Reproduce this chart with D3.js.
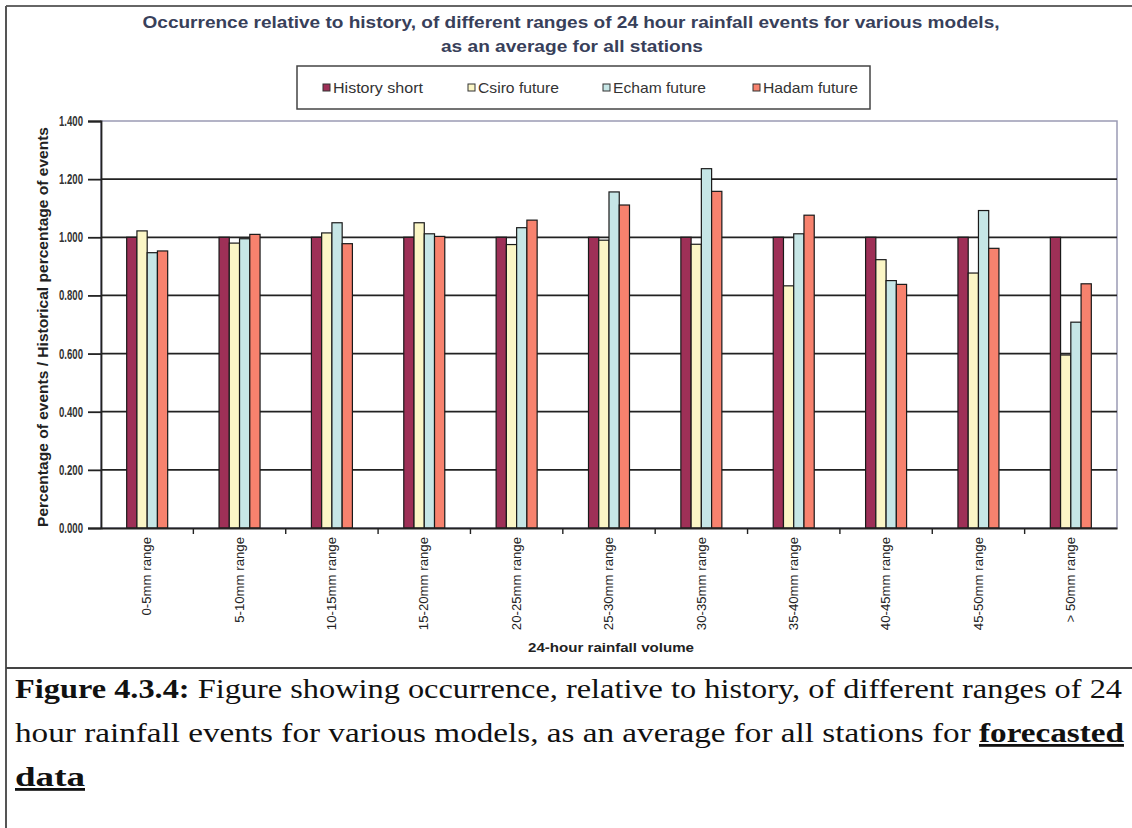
<!DOCTYPE html>
<html>
<head>
<meta charset="utf-8">
<script src="https://cdn.jsdelivr.net/npm/d3@7"></script>
<style>
  html, body { margin: 0; padding: 0; background: #fff; }
  svg { display: block; }
</style>
</head>
<body>
<svg id="chart" width="1132" height="828"></svg>
<script>
const categories = ["0-5mm range","5-10mm range","10-15mm range","15-20mm range","20-25mm range","25-30mm range","30-35mm range","35-40mm range","40-45mm range","45-50mm range","> 50mm range"];
const seriesNames = ["History short","Csiro future","Echam future","Hadam future"];
const historyShort = [1.000,1.000,1.000,1.000,1.000,1.000,1.000,1.000,1.000,1.000,1.000];
const csiroFuture  = [1.022,0.980,1.015,1.050,0.975,0.990,0.976,0.833,0.923,0.877,0.595];
const echamFuture  = [0.947,0.995,1.050,1.012,1.033,1.156,1.236,1.012,0.851,1.092,0.708];
const hadamFuture  = [0.953,1.010,0.978,1.003,1.059,1.111,1.158,1.076,0.838,0.962,0.840];
const yTicks = [0,0.2,0.4,0.6,0.8,1.0,1.2,1.4];
const seriesColors = ["#9e3057","#fbf6c6","#c6e6e6","#f7826e"];

const titleLines = ["Occurrence relative to history, of different ranges of 24 hour rainfall events for various models,", "as an average for all stations"];
const yAxisTitle = "Percentage of events / Historical percentage of events";
const xAxisTitle = "24-hour rainfall volume";

const seriesValues = [historyShort, csiroFuture, echamFuture, hadamFuture];

(function draw() {
const svg = d3.select("#chart");

// outer frame
svg.append("line").attr("x1",6).attr("x2",1132).attr("y1",6).attr("y2",6).attr("stroke","#666").attr("stroke-width",2);
svg.append("line").attr("x1",6).attr("x2",6).attr("y1",6).attr("y2",828).attr("stroke","#555").attr("stroke-width",2);
svg.append("line").attr("x1",6).attr("x2",1132).attr("y1",668).attr("y2",668).attr("stroke","#444").attr("stroke-width",2);

// title
const titleFont = "'Liberation Sans Narrow','Arial Narrow','Liberation Sans',sans-serif";
svg.append("text").attr("x",571).attr("y",28).attr("text-anchor","middle")
  .attr("font-family",titleFont).attr("font-weight","bold").attr("font-size",17)
  .attr("fill","#38405a").attr("textLength",857).attr("lengthAdjust","spacingAndGlyphs")
  .text(titleLines[0]);
svg.append("text").attr("x",572).attr("y",52).attr("text-anchor","middle")
  .attr("font-family",titleFont).attr("font-weight","bold").attr("font-size",17)
  .attr("fill","#38405a").attr("textLength",262).attr("lengthAdjust","spacingAndGlyphs")
  .text(titleLines[1]);

// legend
svg.append("rect").attr("x",297).attr("y",66).attr("width",573).attr("height",43)
  .attr("fill","#fff").attr("stroke","#444").attr("stroke-width",1.5);
const legendX = [323, 468, 603, 753];
const legendW = [90, 81, 93, 95];
seriesNames.forEach((n,i) => {
  svg.append("rect").attr("x",legendX[i]).attr("y",84).attr("width",7).attr("height",7)
    .attr("fill",seriesColors[i]).attr("stroke","#333").attr("stroke-width",1);
  svg.append("text").attr("x",legendX[i]+10).attr("y",93)
    .attr("font-family","'Liberation Sans',Arial,sans-serif").attr("font-size",15)
    .attr("fill","#333").attr("textLength",legendW[i]).attr("lengthAdjust","spacingAndGlyphs")
    .text(n);
});

// plot
const pLeft = 101, pRight = 1117, pTop = 121, pBottom = 528;
const x0 = d3.scaleBand().domain(categories).range([pLeft, pRight]).paddingInner(0).paddingOuter(0);
const groupW = 41;
const x1 = d3.scaleBand().domain(seriesNames).range([0, groupW]).padding(0);
const y = d3.scaleLinear().domain([0, 1.4]).range([pBottom, pTop]);

// plot area border
svg.append("rect").attr("x",pLeft).attr("y",pTop).attr("width",pRight-pLeft).attr("height",pBottom-pTop)
  .attr("fill","none").attr("stroke","#9a9ab4").attr("stroke-width",1.5);

// gridlines
svg.append("g").selectAll("line").data(yTicks.filter(d=>d>0 && d<1.4)).join("line")
  .attr("x1",pLeft).attr("x2",pRight).attr("y1",d=>y(d)).attr("y2",d=>y(d))
  .attr("stroke","#222").attr("stroke-width",1.8);

// bars
const groups = svg.append("g").selectAll("g").data(categories).join("g")
  .attr("transform",c => `translate(${x0(c) + (x0.bandwidth()-groupW)/2},0)`);
groups.selectAll("rect").data((c,ci) => seriesNames.map((s,si) => ({s, si, v: seriesValues[si][ci]})))
  .join("rect")
  .attr("x",d => x1(d.s)).attr("width",x1.bandwidth())
  .attr("y",d => y(d.v)).attr("height",d => pBottom - y(d.v))
  .attr("fill",d => seriesColors[d.si]).attr("stroke","#1a1a1a").attr("stroke-width",1.2);

// y axis
const yAxis = d3.axisLeft(y).tickValues(yTicks).tickFormat(d3.format(".3f")).tickSizeOuter(0).tickSize(13).tickPadding(5);
const yg = svg.append("g").attr("transform",`translate(${pLeft},0)`).call(yAxis);
yg.select(".domain").attr("stroke","#222").attr("stroke-width",1.8);
yg.selectAll(".tick line").attr("stroke","#222").attr("stroke-width",1.8);
yg.selectAll(".tick text").attr("font-family","'Liberation Sans',Arial,sans-serif").attr("font-size",14)
  .attr("font-weight","bold").attr("fill","#333").attr("textLength",24).attr("lengthAdjust","spacingAndGlyphs");

// x axis
const xAxis = d3.axisBottom(x0).tickSize(0).tickPadding(0);
const xg = svg.append("g").attr("transform",`translate(0,${pBottom})`).call(xAxis);
xg.select(".domain").attr("stroke","#222").attr("stroke-width",1.8);
xg.selectAll(".tick text")
  .attr("font-family","'Liberation Sans',Arial,sans-serif").attr("font-size",12).attr("fill","#222")
  .attr("text-anchor","end").attr("transform","rotate(-90)")
  .attr("x",-9).attr("y",0).attr("dy","0.35em")
  .each(function() { const L = this.getComputedTextLength(); d3.select(this).attr("textLength", L*1.1).attr("lengthAdjust","spacingAndGlyphs"); });
svg.append("g").selectAll("line").data(categories.slice(1)).join("line")
  .attr("x1",c=>x0(c)).attr("x2",c=>x0(c)).attr("y1",pBottom).attr("y2",pBottom+6)
  .attr("stroke","#222").attr("stroke-width",1.4);

// axis titles
svg.append("text").attr("transform","translate(48,327) rotate(-90)").attr("text-anchor","middle")
  .attr("font-family","'Liberation Sans',Arial,sans-serif").attr("font-weight","bold").attr("font-size",14)
  .attr("fill","#222").attr("textLength",400).attr("lengthAdjust","spacingAndGlyphs").text(yAxisTitle);
svg.append("text").attr("x",611).attr("y",652).attr("text-anchor","middle")
  .attr("font-family","'Liberation Sans',Arial,sans-serif").attr("font-weight","bold").attr("font-size",13)
  .attr("fill","#222").attr("textLength",166).attr("lengthAdjust","spacingAndGlyphs").text(xAxisTitle);

// caption
const capFont = "'Liberation Serif','Times New Roman',Times,serif";
const c1 = svg.append("text").attr("x",15).attr("y",698).attr("font-family",capFont).attr("font-size",28).attr("fill","#111")
  .attr("textLength",1107).attr("lengthAdjust","spacingAndGlyphs");
c1.append("tspan").attr("font-weight","bold").text("Figure 4.3.4:");
c1.append("tspan").text(" Figure showing occurrence, relative to history, of different ranges of 24");
const c2 = svg.append("text").attr("x",15).attr("y",742).attr("font-family",capFont).attr("font-size",28).attr("fill","#111")
  .attr("textLength",1109).attr("lengthAdjust","spacingAndGlyphs");
c2.append("tspan").text("hour rainfall events for various models, as an average for all stations for ");
c2.append("tspan").attr("font-weight","bold").attr("text-decoration","underline").text("forecasted");
svg.append("text").attr("x",15).attr("y",786).attr("font-family",capFont).attr("font-size",28).attr("fill","#111")
  .attr("font-weight","bold").attr("text-decoration","underline").attr("textLength",70).attr("lengthAdjust","spacingAndGlyphs").text("data");
})();
</script>
</body>
</html>
